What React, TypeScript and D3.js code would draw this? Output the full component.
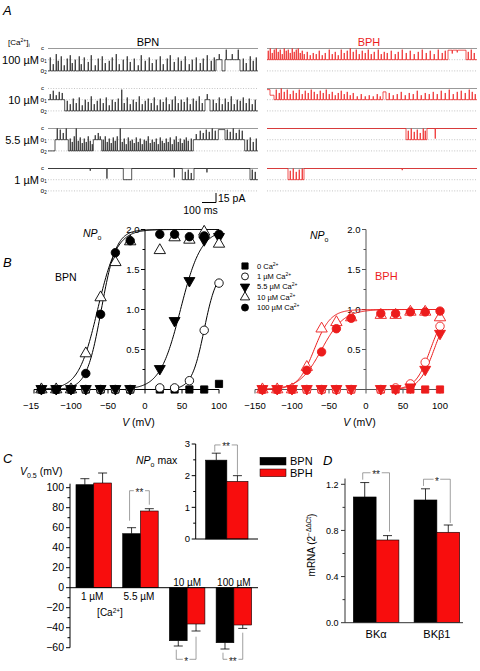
import React from "react";
import * as d3 from "d3";

const FONT = "'Liberation Sans', Arial, Helvetica, sans-serif";
const RED = "#ec1c1c";
const BAR_RED = "#f80d0d";
const GREY = "#8c8c8c";

// ---------------- Panel A: single-channel records ----------------
const CA_ROWS = ["100 µM", "10 µM", "5.5 µM", "1 µM"];
const TRACE_MS = 1500; // full sweep
const UNIT_MS = 100 / 14; // event times below are in units of 1/14 of 100 ms
const SCALE_BAR_MS = 100;
const SCALE_BAR_PA = 15;
type Seg = [number, number, number]; // start, end, level (0 = c, 1 = o1, 2 = o2)
type Flk = [number, number]; // time, excursion toward closed (level units)

const BPN_SEGS: Seg[][] = [
  [[0, 168, 2], [168, 174, 1], [174, 177, 2], [177, 192, 1], [192, 210, 2]],
  [[0, 16.7, 1], [16.7, 157, 2], [157, 162, 1], [162, 210, 2]],
  [[0, 7, 2], [7, 20.3, 1], [20.3, 45.3, 2], [45.3, 53.7, 1], [53.7, 145.3, 2], [145.3, 170.3, 1], [170.3, 177, 0.1], [177, 196.7, 1], [196.7, 210, 2]],
  [[0, 75.3, 0], [75.3, 83.7, 1], [83.7, 134.3, 0], [134.3, 146, 1], [146, 202, 0], [202, 210, 1]],
];
const BPN_FLKS: Flk[][] = [
  [[2, 1.2], [5, 0.6], [8, 1.5], [10, 0.9], [13, 1.3], [16, 0.5], [19, 1.1], [22, 1.4], [24, 0.7], [27, 1.0], [31, 1.3], [33, 0.6], [36, 1.2], [40, 0.8], [43, 1.4], [47, 0.5], [50, 1.1], [54, 1.3], [57, 0.7], [61, 0.9], [64, 1.2], [68, 1.5], [71, 0.6], [75, 1.0], [79, 1.3], [82, 0.8], [86, 1.1], [90, 0.5], [93, 1.4], [97, 0.9], [101, 1.2], [104, 0.7], [108, 1.0], [112, 1.3], [115, 0.6], [119, 1.1], [122, 1.4], [126, 0.8], [130, 1.2], [133, 0.9], [137, 1.3], [141, 0.6], [144, 1.0], [148, 1.2], [152, 0.7], [155, 1.1], [159, 1.4], [163, 0.9], [166, 1.2], [171, 0.5], [178, 0.9], [184, 0.5], [190, 0.9], [195, 1.1], [198, 0.7], [202, 1.3], [205, 0.9], [208, 1.2]],
  [[2, 0.5], [5, 0.8], [8, 0.4], [11, 0.7], [14, 0.6], [19, 0.9], [22, 0.6], [25, 1.1], [28, 0.7], [31, 1.2], [34, 0.5], [37, 1.0], [40, 0.8], [43, 1.3], [46, 0.6], [49, 0.9], [52, 1.1], [55, 0.7], [58, 1.2], [61, 0.5], [64, 1.0], [67, 0.8], [70, 1.1], [73.5, 1.9], [76, 0.7], [79, 1.2], [82, 0.6], [85, 1.0], [88, 0.8], [91, 1.3], [94, 0.6], [97, 0.9], [100, 1.1], [103, 0.7], [106, 1.2], [109, 0.5], [112, 1.0], [115, 0.8], [118, 1.2], [121, 0.6], [124, 1.0], [127, 1.3], [130, 0.7], [133, 1.0], [136, 0.8], [139, 1.2], [142, 0.6], [145, 1.1], [148, 0.9], [151, 1.3], [154, 0.7], [159, 0.5], [165, 1.0], [168, 0.7], [171, 1.2], [174, 0.6], [177, 1.1], [180, 0.8], [183, 1.3], [186, 0.6], [189, 1.0], [192, 0.9], [195, 1.2], [198, 0.7], [201, 1.1], [204, 0.6], [207, 1.0]],
  [[9, 1.0], [12, 0.9], [15, 0.6], [18, 1.0], [22, 1.1], [24, 0.8], [26, 1.3], [28, 2.0], [30, 0.9], [32, 1.2], [34, 0.7], [36, 1.1], [38, 0.8], [40, 1.3], [42, 0.9], [44, 0.6], [47, 0.4], [50, 0.6], [52, 0.3], [55, 1.0], [57, 1.3], [59, 0.8], [61, 1.1], [63, 0.7], [65, 1.2], [67, 0.9], [69, 1.3], [72, 2.0], [74, 0.8], [76, 1.1], [78, 0.6], [80, 1.2], [82, 0.9], [84, 1.0], [86, 0.7], [88, 1.2], [90, 0.8], [92, 1.1], [94, 0.6], [96, 1.0], [98, 0.9], [100, 1.3], [102, 0.7], [104, 1.0], [106, 0.8], [108, 1.1], [110, 0.6], [112, 1.2], [114, 0.9], [116, 0.7], [118, 1.1], [120, 0.8], [122, 1.2], [124, 0.6], [126, 1.0], [128, 1.3], [130, 0.8], [132, 1.1], [134, 0.7], [136, 1.0], [138, 1.2], [140, 0.9], [143, 1.1], [148, 0.5], [152, 0.8], [155, 0.6], [158, 0.9], [161, 0.7], [164, 1.0], [167, 0.8], [179, 0.9], [182, 0.7], [185, 1.0], [188, 0.6], [191, 0.9], [194, 0.8], [199, 1.0], [202, 1.2], [205, 0.8], [208, 1.1]],
  [[42, -0.2], [58.7, -0.9], [126, -0.8], [137, 0.7], [140, 0.9], [143, 0.6], [158.7, -0.35], [204, 0.9], [207, 0.7]],
];
const BPH_SEGS: Seg[][] = [
  [[0, 181, 1], [181, 199, 0.15], [199, 210, 1]],
  [[0, 3, 0.1], [3, 7, 0.6], [7, 116, 1], [116, 119, 0.3], [119, 210, 1]],
  [[0, 139, 0], [139, 160, 1], [160, 210, 0]],
  [[0, 21, 0], [21, 37, 1], [37, 210, 0]],
];
const BPH_FLKS: Flk[][] = [
  [[1, 0.8], [3, 1.0], [5, 0.6], [7, 0.9], [9, 1.0], [11, 0.7], [13, 0.9], [15, 0.5], [17, 1.0], [19, 0.8], [21, 0.9], [23, 0.6], [25, 1.0], [27, 0.7], [29, 0.9], [31, 1.0], [33, 0.6], [35, 0.8], [37, 0.5], [40, 0.7], [43, 0.4], [46, 0.6], [49, 0.5], [52, 0.8], [55, 0.4], [58, 0.6], [62, 0.9], [65, 0.5], [68, 0.7], [71, 0.4], [74, 0.9], [77, 0.6], [80, 0.8], [83, 1.0], [86, 0.7], [89, 0.9], [92, 0.5], [95, 0.8], [98, 0.6], [101, 0.9], [104, 0.5], [107, 0.7], [111, 0.9], [114, 0.5], [117, 0.7], [120, 0.6], [124, 0.8], [128, 0.5], [131, 0.7], [135, 0.9], [139, 0.6], [143, 0.8], [147, 0.5], [151, 0.7], [155, 0.9], [159, 0.6], [163, 0.8], [167, 0.5], [171, 0.9], [175, 0.6], [178, 0.8], [185, -0.3], [190, -0.2], [201, 0.7], [204, 0.9], [207, 0.6]],
  [[9, 0.9], [12, 0.6], [14, 1.0], [17, 0.7], [20, 0.9], [23, 0.5], [26, 0.8], [29, 0.6], [32, 0.9], [35, 0.5], [38, 0.8], [41, 0.6], [44, 0.9], [47, 0.7], [50, 0.5], [53, 0.8], [56, 0.6], [59, 0.9], [62, 0.5], [65, 0.7], [68, 0.4], [71, 0.6], [74, 0.8], [77, 0.5], [80, 0.7], [83, 0.4], [86, 0.6], [90, 0.3], [94, 0.5], [98, 0.3], [102, 0.4], [106, 0.3], [110, 0.5], [113, 0.3], [122, 0.6], [126, 0.4], [130, 0.5], [134, 0.7], [138, 0.4], [142, 0.6], [146, 0.5], [150, 0.8], [154, 0.4], [158, 0.6], [162, 0.5], [166, 0.7], [170, 0.5], [174, 0.8], [178, 0.6], [182, 0.9], [186, 0.5], [190, 0.7], [194, 0.8], [198, 0.6], [202, 0.9], [205, 0.7], [208, 0.5]],
  [[141, 0.8], [144, 1.0], [147, 0.7], [150, 0.9], [153, 0.6], [156, 1.0], [158, 0.8], [168, -0.9]],
  [[23, 0.8], [26, 1.0], [29, 0.7], [32, 0.9], [35, 1.0], [135, -0.15]],
];
const BPN_C_SOLID = [true, false, true, true];
const BPH_C_SOLID = [true, true, true, true];

// ---------------- Panel B: NPo–V ----------------
const VOLT = [-140, -120, -100, -80, -60, -40, -20, 20, 40, 60, 80, 100];
const SERIES = ["0", "1", "5.5", "10", "100"];
const LEGEND_PREFIX = ["0 Ca", "1 µM Ca", "5.5 µM Ca", "10 µM Ca", "100 µM Ca"];
const BPN_NPO: number[][] = [
  [0, 0, 0, 0, 0, 0, 0, 0, 0, 0, 0, 0.07],
  [0, 0, 0, 0, 0, 0, 0, 0.02, 0.02, 0.11, 0.74, 1.33],
  [0, 0, 0, 0, 0, 0, 0, 0.25, 0.85, 1.35, 1.86, 1.9],
  [0, 0, 0, 0.45, 1.15, 1.59, 1.85, 1.74, 1.9, 1.87, 1.97, 1.82],
  [0, 0, 0, 0.2, 0.94, 1.71, 1.86, 1.94, 1.94, 1.91, 1.92, 1.94],
];
const BPH_NPO: number[][] = [
  [0, 0, 0, 0, 0, 0, 0, 0, 0, 0, 0, 0],
  [0, 0, 0, 0, 0, 0, 0, 0, 0.02, 0.07, 0.34, 0.79],
  [0, 0, 0, 0, 0, 0, 0, 0, 0, 0.02, 0.24, 0.69],
  [0, 0, 0, 0.28, 0.76, 0.84, 0.9, 0.93, 0.93, 0.97, 0.97, 0.9],
  [0, 0, 0, 0.24, 0.47, 0.76, 0.89, 0.95, 0.95, 0.97, 0.97, 0.98],
];
// Boltzmann fits: [V0.5, k, max, vFrom, vTo]; null = no fit
const BPN_FIT: (number[] | null)[] = [null, [80, 8.5, 1.5, 40, 100], [48, 14, 2, -20, 100], [-64, 13, 2, -140, 100], [-59, 10, 2, -140, 100]];
const BPH_FIT: (number[] | null)[] = [null, [87, 10, 1, 40, 100], [92, 10, 1, 40, 100], [-70, 11, 1, -140, 100], [-60, 15, 1, -140, 100]];
const NPO_TICKS = [0.5, 1.0, 1.5, 2.0];
const NPO_MINOR = [0.25, 0.75, 1.25, 1.75];
const V_TICKS = [-150, -100, -50, 0, 50, 100];
const V_LABELS_L = ["−15", "−100", "−50", "0", "50", "100"];
const V_LABELS_R = ["−150", "−100", "−50", "0", "50", "100"];

// ---------------- Panel C ----------------
const C_CATS = ["1 µM", "5.5 µM", "10 µM", "100 µM"];
const GROUPS = ["BPN", "BPH"];
const V05_BPN = [103, 54, -53, -55];
const V05_BPN_ERR = [6, 6, 5.3, 6.3];
const V05_BPH = [104.7, 76.7, -36.3, -37.3];
const V05_BPH_ERR = [10, 2.3, 7, 3.4];
const V05_TICKS = [-60, -40, -20, 0, 20, 40, 60, 80, 100];
const V05_MINOR = [-50, -30, -10, 10, 30, 50, 70, 90];
// significance: [category index, bracket value, left leg end, right leg end, label]
const V05_SIG: [number, number, number, number, string][] = [
  [1, 97, 67, 83, "**"],
  [2, -71.6, -62, -49, "*"],
  [3, -71.6, -65, -45, "**"],
];
const NPO_MAX = [2.49, 1.82];
const NPO_MAX_ERR = [0.22, 0.18];
const NPO_MAX_TICKS = [0, 1, 2, 3];
const NPO_MAX_MINOR = [0.5, 1.5, 2.5];
const NPO_MAX_SIG: [number, number, number, string] = [2.97, 2.76, 2.03, "**"];

// ---------------- Panel D ----------------
const GENES = ["BKα", "BKβ1"];
const MRNA_BPN = [1.09, 1.064];
const MRNA_BPN_ERR = [0.125, 0.097];
const MRNA_BPH = [0.717, 0.784];
const MRNA_BPH_ERR = [0.038, 0.063];
const MRNA_TICKS = [0, 0.4, 0.8, 1.2];
const MRNA_MINOR = [0.2, 0.6, 1.0];
const MRNA_SIG: [number, number, number, number, string][] = [
  [0, 1.3, 1.24, 0.79, "**"],
  [1, 1.244, 1.186, 0.865, "*"],
];

// ======================================================================

function tracePath(segs: Seg[], flks: Flk[], x: (t: number) => number, y: (l: number) => number) {
  const pts: [number, number][] = [];
  segs.forEach(([a, b, lev]) => {
    pts.push([a, lev]);
    flks
      .filter((f) => f[0] >= a && f[0] < b)
      .sort((p, q) => p[0] - q[0])
      .forEach(([fx, h]) => {
        pts.push([fx, lev], [fx + 0.25, lev - h], [fx + 0.5, lev]);
      });
    pts.push([b, lev]);
  });
  return d3.line<[number, number]>().x((d) => x(d[0])).y((d) => y(d[1]))(pts) || "";
}

function TracePanel({ segs, flks, cSolid, x0, x1, color, labels }: any) {
  const xs = d3.scaleLinear().domain([0, TRACE_MS]).range([x0, x1]);
  const rowY = d3.scalePoint<string>().domain(CA_ROWS).range([48.5, 168.5]);
  const out: any[] = [];
  CA_ROWS.forEach((row, i) => {
    const cY = rowY(row)!;
    const ly = d3.scaleLinear().domain([0, 2]).range([cY, cY + 22.4]);
    [0, 1, 2].forEach((lev) => {
      const solid = lev === 0 && cSolid[i];
      out.push(
        <line key={`l${i}${lev}`} x1={x0} x2={x1} y1={ly(lev)} y2={ly(lev)} stroke={solid ? "#999" : "#aaa"}
          strokeWidth={solid ? 1 : 0.7} strokeDasharray={solid ? undefined : "1 1.6"} />
      );
    });
    if (labels) {
      out.push(
        <text key={`rl${i}`} x={39} y={ly(1) + 4} textAnchor="end" fontSize={11}>{row}</text>,
        <text key={`c${i}`} x={41} y={ly(0) + 1.5} fontSize={6}>c</text>,
        <text key={`o1${i}`} x={40.5} y={ly(1) + 2} fontSize={6.5}>o<tspan fontSize={4.5} dy={1.5}>1</tspan></text>,
        <text key={`o2${i}`} x={40.5} y={ly(2) + 2} fontSize={6.5}>o<tspan fontSize={4.5} dy={1.5}>2</tspan></text>
      );
    }
    out.push(
      <path key={`t${i}`} d={tracePath(segs[i], flks[i], (t) => xs(t * UNIT_MS), ly)} fill="none" stroke={color}
        strokeWidth={0.75} strokeLinejoin="round" />
    );
  });
  return <g>{out}</g>;
}

function symbolPath(idx: number) {
  const types = [d3.symbolSquare, d3.symbolCircle, d3.symbolTriangle, d3.symbolTriangle, d3.symbolCircle];
  const sizes = [52, 56, 52, 56, 56];
  return d3.symbol().type(types[idx]).size(sizes[idx])() || "";
}
const OPEN = [false, true, false, true, false];
const DOWN = [false, false, true, false, false];

function NpoPanel({ data, fits, x0, x1, color, axisColor, vLabels }: any) {
  const x = d3.scaleLinear().domain([-150, 100]).range([x0, x1]);
  const y = d3.scaleLinear().domain([0, 2]).range([389.5, 229.5]);
  const ax = x(0);
  const line = d3.line<[number, number]>().x((d) => x(d[0])).y((d) => y(d[1]));
  return (
    <g>
      {/* axes */}
      <line x1={x0} x2={x1} y1={y(0)} y2={y(0)} stroke={axisColor} strokeWidth={1} />
      <line x1={ax} x2={ax} y1={y(0)} y2={y(2)} stroke={axisColor} strokeWidth={1} />
      {V_TICKS.map((v, i) => (
        <g key={v}>
          <line x1={x(v)} x2={x(v)} y1={y(0)} y2={y(0) + 4} stroke={axisColor} />
          <text x={x(v) - (i === 0 && vLabels[0] === "−15" ? 3 : 0)} y={408.5} fontSize={9.5} textAnchor="middle">{vLabels[i]}</text>
        </g>
      ))}
      {NPO_TICKS.map((t) => (
        <g key={t}>
          <line x1={ax - 4} x2={ax} y1={y(t)} y2={y(t)} stroke={axisColor} />
          <text x={ax - 5.5} y={y(t) + 3.4} fontSize={9.5} textAnchor="end">{t.toFixed(1)}</text>
        </g>
      ))}
      {NPO_MINOR.map((t) => (
        <line key={t} x1={ax - 2.5} x2={ax} y1={y(t)} y2={y(t)} stroke={axisColor} />
      ))}
      <text x={(x0 + x1) / 2 + 12} y={425.5} fontSize={10.5} textAnchor="middle">
        <tspan fontStyle="italic">V</tspan> (mV)
      </text>
      {/* fits */}
      {fits.map((f: number[] | null, i: number) =>
        f ? (
          <path key={`f${i}`} fill="none" stroke={color} strokeWidth={1}
            d={line(d3.range(f[3], f[4] + 0.01, 1).map((v) => [v, f[2] / (1 + Math.exp((f[0] - v) / f[1]))] as [number, number])) || ""} />
        ) : null
      )}
      {/* markers */}
      {data.map((s: number[], i: number) =>
        s.map((v, j) => (
          <path key={`m${i}-${j}`} d={symbolPath(i)}
            transform={`translate(${x(VOLT[j])},${y(v) + (DOWN[i] ? -0.8 : 0)})${DOWN[i] ? " rotate(180)" : ""}`}
            fill={OPEN[i] ? "#fff" : color} stroke={color} strokeWidth={0.9} />
        ))
      )}
    </g>
  );
}

function Bracket({ xl, xr, yb, yl, yr, label, below }: any) {
  const w = label.length * 4.6 + 2;
  const cx = (xl + xr) / 2;
  return (
    <g stroke="#777" strokeWidth={0.7} fill="none">
      <line x1={xl} x2={xl} y1={yb} y2={yl} />
      <line x1={xr} x2={xr} y1={yb} y2={yr} />
      <line x1={xl} x2={cx - w / 2} y1={yb} y2={yb} />
      <line x1={cx + w / 2} x2={xr} y1={yb} y2={yb} />
      <text x={cx} y={yb + 5.5} fontSize={10} textAnchor="middle" fill="#222" stroke="none">{label}</text>
    </g>
  );
}

export default function App() {
  // ---- panel C scales ----
  const xC = d3.scaleBand<string>().domain(C_CATS).range([70, 257.6]).paddingInner(0.24).paddingOuter(0.128);
  const xCin = d3.scaleBand<string>().domain(GROUPS).range([0, xC.bandwidth()]);
  const yC = d3.scaleLinear().domain([-60, 100]).range([647.7, 487.7]);
  const xI = d3.scaleBand<string>().domain(["NPo"]).range([195.7, 258]).paddingInner(0).paddingOuter(0.236);
  const xIin = d3.scaleBand<string>().domain(GROUPS).range([0, xI.bandwidth()]);
  const yI = d3.scaleLinear().domain([0, 3]).range([539, 444]);
  const xD = d3.scaleBand<string>().domain(GENES).range([345, 468]).paddingInner(0.25).paddingOuter(0.137);
  const xDin = d3.scaleBand<string>().domain(GROUPS).range([0, xD.bandwidth()]);
  const yD = d3.scaleLinear().domain([0, 1.2]).range([622.7, 484.3]);

  const barSeries = [
    { g: "BPN", fill: "#000" },
    { g: "BPH", fill: BAR_RED },
  ];
  const v05 = [V05_BPN, V05_BPH];
  const v05e = [V05_BPN_ERR, V05_BPH_ERR];
  const mr = [MRNA_BPN, MRNA_BPH];
  const mre = [MRNA_BPN_ERR, MRNA_BPH_ERR];

  const errBar = (cx: number, yv: number, ye: number, key: string) => (
    <g key={key} stroke="#000" strokeWidth={0.8}>
      <line x1={cx} x2={cx} y1={yv} y2={ye} />
      <line x1={cx - 4.5} x2={cx + 4.5} y1={ye} y2={ye} />
    </g>
  );

  const scaleX = d3.scaleLinear().domain([0, TRACE_MS]).range([48, 258]);
  const barLen = scaleX(SCALE_BAR_MS) - scaleX(0);
  const paToPx = 11.2 / SCALE_BAR_PA; // o1–o2 spacing corresponds to one unitary current

  return (
    <svg width={480} height={671} style={{ position: "absolute", left: 0, top: 0, background: "#fff" }}
      fontFamily={FONT}>
      <rect x={0} y={0} width={480} height={671} fill="#fff" />
      {/* ================= A ================= */}
      <text x={3} y={15} fontSize={13} fontStyle="italic">A</text>
      <text x={8} y={44.5} fontSize={8}>
        [Ca<tspan fontSize={5} dy={-3}>2+</tspan><tspan dy={3}>]</tspan><tspan fontSize={5.5} dy={2}>i</tspan>
      </text>
      <text x={148} y={45.5} fontSize={11} textAnchor="middle">BPN</text>
      <text x={369} y={45.5} fontSize={11} textAnchor="middle" fill={RED}>BPH</text>
      <TracePanel segs={BPN_SEGS} flks={BPN_FLKS} cSolid={BPN_C_SOLID} x0={48} x1={258} color="#1e1e1e" labels />
      <TracePanel segs={BPH_SEGS} flks={BPH_FLKS} cSolid={BPH_C_SOLID} x0={267} x1={477} color={RED} labels={false} />
      {/* scale bar */}
      <g stroke="#000" strokeWidth={1}>
        <line x1={216 - barLen} x2={216} y1={202.5} y2={202.5} />
        <line x1={216} x2={216} y1={202.5} y2={202.5 - SCALE_BAR_PA * paToPx * 0.85} />
      </g>
      <text x={218} y={201.5} fontSize={10.5}>15 pA</text>
      <text x={200.5} y={213.5} fontSize={10.5} textAnchor="middle">100 ms</text>

      {/* ================= B ================= */}
      <text x={3} y={267} fontSize={13} fontStyle="italic">B</text>
      <text x={55} y={281} fontSize={10.5}>BPN</text>
      <text x={83} y={237} fontSize={10.5}>
        <tspan fontStyle="italic">NP</tspan><tspan fontSize={7} dy={3}>o</tspan>
      </text>
      <text x={310} y={238.5} fontSize={10.5}>
        <tspan fontStyle="italic">NP</tspan><tspan fontSize={7} dy={3}>o</tspan>
      </text>
      <text x={375} y={280} fontSize={11} fill={RED}>BPH</text>
      <NpoPanel data={BPN_NPO} fits={BPN_FIT} x0={34} x1={219} color="#000" axisColor="#000" vLabels={V_LABELS_L} />
      <NpoPanel data={BPH_NPO} fits={BPH_FIT} x0={255} x1={440} color={RED} axisColor="#555" vLabels={V_LABELS_R} />
      {/* legend */}
      {SERIES.map((s, i) => {
        const ly = 266 + i * 10.4;
        return (
          <g key={s}>
            <path d={d3.symbol().type([d3.symbolSquare, d3.symbolCircle, d3.symbolTriangle, d3.symbolTriangle, d3.symbolCircle][i]).size(38)() || ""}
              transform={`translate(245,${ly})${DOWN[i] ? " rotate(180)" : ""}`} fill={OPEN[i] ? "#fff" : "#000"} stroke="#000" strokeWidth={0.9} />
            <text x={257} y={ly + 2.6} fontSize={7.5}>
              {LEGEND_PREFIX[i]}<tspan fontSize={5} dy={-3}>2+</tspan>
            </text>
          </g>
        );
      })}

      {/* ================= C ================= */}
      <text x={3} y={463} fontSize={13} fontStyle="italic">C</text>
      <text x={20} y={475} fontSize={10.5}>
        <tspan fontStyle="italic">V</tspan><tspan fontSize={7} dy={3}>0.5</tspan><tspan dy={-3}> (mV)</tspan>
      </text>
      <line x1={70} x2={70} y1={yC(-60)} y2={yC(104)} stroke="#000" />
      {V05_TICKS.map((t) => (
        <g key={t}>
          <line x1={66} x2={70} y1={yC(t)} y2={yC(t)} stroke="#000" />
          <text x={64} y={yC(t) + 3.6} fontSize={10.5} textAnchor="end">{t < 0 ? `−${-t}` : t}</text>
        </g>
      ))}
      {V05_MINOR.map((t) => (
        <line key={t} x1={67.5} x2={70} y1={yC(t)} y2={yC(t)} stroke="#000" />
      ))}
      {C_CATS.map((c, ci) =>
        barSeries.map((s, si) => {
          const v = v05[si][ci];
          const bx = xC(c)! + xCin(s.g)!;
          const bw = xCin.bandwidth();
          const e = v05e[si][ci];
          return (
            <g key={`${c}-${s.g}`}>
              <rect x={bx} y={Math.min(yC(0), yC(v))} width={bw} height={Math.abs(yC(v) - yC(0))} fill={s.fill} stroke="#000" strokeWidth={0.6} />
              {errBar(bx + bw / 2, yC(v), yC(v + Math.sign(v) * e), "e")}
            </g>
          );
        })
      )}
      <line x1={70} x2={258} y1={yC(0)} y2={yC(0)} stroke="#000" />
      {C_CATS.map((c, ci) => {
        const cx = xC(c)! + xC.bandwidth() / 2;
        const above = V05_BPN[ci] < 0;
        return (
          <text key={c} x={cx - (above ? 0 : 1.5)} y={above ? 586 : 600} fontSize={10} textAnchor="middle">{c}</text>
        );
      })}
      <text x={110} y={616} fontSize={10} textAnchor="middle">
        [Ca<tspan fontSize={6.5} dy={-3.5}>2+</tspan><tspan dy={3.5}>]</tspan>
      </text>
      {V05_SIG.map(([ci, b, l, r, lab]) => {
        const c = C_CATS[ci];
        return (
          <Bracket key={c} xl={xC(c)! + xCin("BPN")! + xCin.bandwidth() / 2 - 2} xr={xC(c)! + xCin("BPH")! + xCin.bandwidth() / 2}
            yb={yC(b)} yl={yC(l)} yr={yC(r)} label={lab} />
        );
      })}
      {/* inset NPo max */}
      <text x={136} y={464} fontSize={10.5}>
        <tspan fontStyle="italic">NP</tspan><tspan fontSize={7} dy={3}>o</tspan><tspan dy={-3}> max</tspan>
      </text>
      <line x1={xI.range()[0]} x2={xI.range()[0]} y1={yI(0)} y2={yI(3)} stroke="#000" />
      {NPO_MAX_TICKS.map((t) => (
        <g key={t}>
          <line x1={191.7} x2={195.7} y1={yI(t)} y2={yI(t)} stroke="#000" />
          <text x={190} y={yI(t) + 3.4} fontSize={9.5} textAnchor="end">{t}</text>
        </g>
      ))}
      {NPO_MAX_MINOR.map((t) => (
        <line key={t} x1={193.2} x2={195.7} y1={yI(t)} y2={yI(t)} stroke="#000" />
      ))}
      {barSeries.map((s, si) => {
        const bx = xI("NPo")! + xIin(s.g)!;
        const bw = xIin.bandwidth();
        return (
          <g key={s.g}>
            <rect x={bx} y={yI(NPO_MAX[si])} width={bw} height={yI(0) - yI(NPO_MAX[si])} fill={s.fill} stroke="#000" strokeWidth={0.6} />
            {errBar(bx + bw / 2, yI(NPO_MAX[si]), yI(NPO_MAX[si] + NPO_MAX_ERR[si]), "e")}
          </g>
        );
      })}
      <line x1={195.7} x2={258} y1={yI(0)} y2={yI(0)} stroke="#000" />
      <Bracket xl={xI("NPo")! + xIin("BPN")! + xIin.bandwidth() / 2 - 1.5} xr={xI("NPo")! + xIin("BPH")! + xIin.bandwidth() / 2}
        yb={yI(NPO_MAX_SIG[0])} yl={yI(NPO_MAX_SIG[1])} yr={yI(NPO_MAX_SIG[2])} label={NPO_MAX_SIG[3]} />
      {/* legend */}
      {barSeries.map((s, si) => (
        <g key={s.g}>
          <rect x={260} y={457.3 + si * 11.7} width={26} height={7.7} fill={s.fill} stroke="#000" strokeWidth={0.5} />
          <text x={290} y={465.3 + si * 11.7} fontSize={11}>{s.g}</text>
        </g>
      ))}

      {/* ================= D ================= */}
      <text x={323} y={465} fontSize={13} fontStyle="italic">D</text>
      <line x1={345} x2={345} y1={yD(0)} y2={yD(1.25)} stroke="#333" />
      {MRNA_TICKS.map((t) => (
        <g key={t}>
          <line x1={341} x2={345} y1={yD(t)} y2={yD(t)} stroke="#333" />
          <text x={338.5} y={yD(t) + 3.2} fontSize={9} textAnchor="end">{t.toFixed(1)}</text>
        </g>
      ))}
      {MRNA_MINOR.map((t) => (
        <line key={t} x1={342.5} x2={345} y1={yD(t)} y2={yD(t)} stroke="#333" />
      ))}
      {GENES.map((g, gi) =>
        barSeries.map((s, si) => {
          const bx = xD(g)! + xDin(s.g)!;
          const bw = xDin.bandwidth();
          const v = mr[si][gi];
          return (
            <g key={`${g}-${s.g}`}>
              <rect x={bx} y={yD(v)} width={bw} height={yD(0) - yD(v)} fill={s.fill} stroke="#000" strokeWidth={0.6} />
              {errBar(bx + bw / 2, yD(v), yD(v + mre[si][gi]), "e")}
            </g>
          );
        })
      )}
      <line x1={345} x2={463} y1={yD(0)} y2={yD(0)} stroke="#333" />
      {GENES.map((g) => (
        <text key={g} x={xD(g)! + xD.bandwidth() / 2} y={638} fontSize={11} textAnchor="middle">{g}</text>
      ))}
      {MRNA_SIG.map(([gi, b, l, r, lab]) => {
        const g = GENES[gi];
        return (
          <Bracket key={g} xl={xD(g)! + xDin("BPN")! + xDin.bandwidth() / 2 - 2} xr={xD(g)! + xDin("BPH")! + xDin.bandwidth() / 2 + 2}
            yb={yD(b)} yl={yD(l)} yr={yD(r)} label={lab} />
        );
      })}
      <text transform="translate(315,545) rotate(-90)" fontSize={10} textAnchor="middle">
        mRNA (2<tspan fontSize={6.5} dy={-4}>−ΔΔCt</tspan><tspan dy={4}>)</tspan>
      </text>
    </svg>
  );
}
